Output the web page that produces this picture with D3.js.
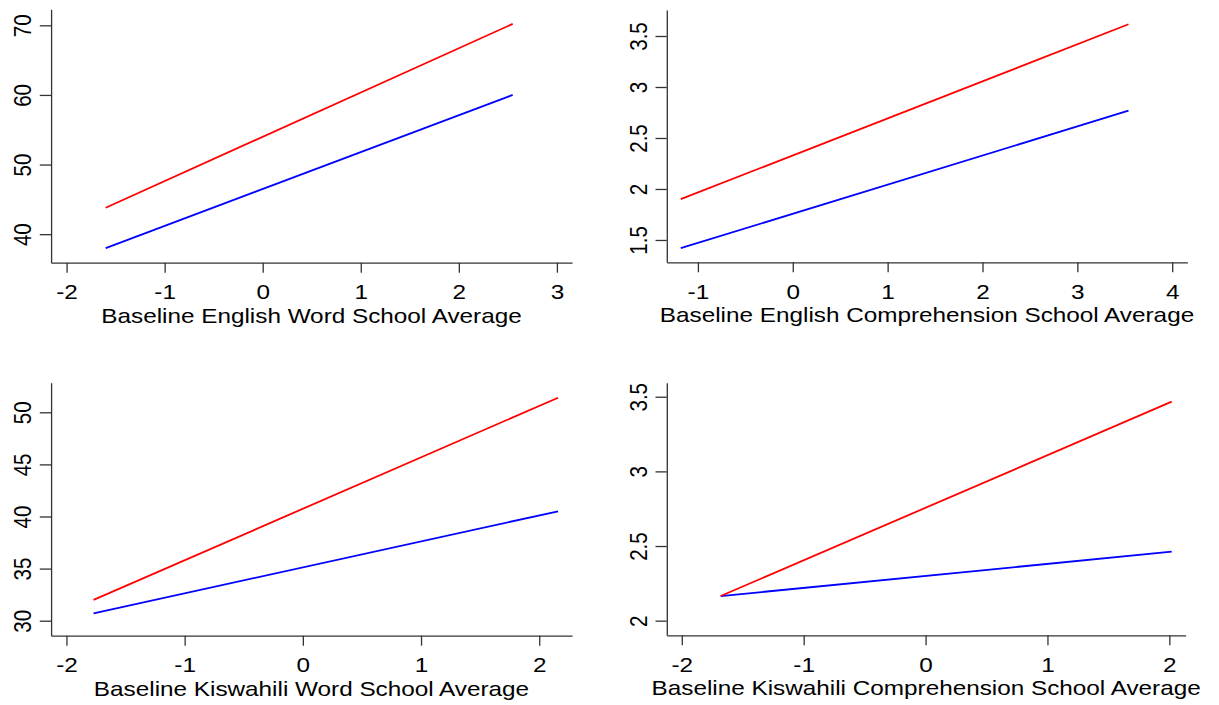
<!DOCTYPE html>
<html>
<head>
<meta charset="utf-8">
<script src="https://cdnjs.cloudflare.com/ajax/libs/d3/7.8.5/d3.min.js"></script>
<style>
  html, body { margin: 0; padding: 0; background: #fff; }
  svg { display: block; }
  text { font-family: "Liberation Sans", Arial, sans-serif; font-size: 20.6px; fill: #000; }
  .domain, .tick line { stroke: #333; stroke-width: 1.3px; vector-effect: non-scaling-stroke; }
  .fit { fill: none; stroke-width: 1.8px; vector-effect: non-scaling-stroke; }
</style>
</head>
<body>
<script>
// fitted lines, two end points each
const engWordX = [-1.6, 2.55]
const engWordRed = [43.8, 70.2]
const engWordBlue = [38.0, 60.0]

const engCompX = [-1.18, 3.54]
const engCompRed = [1.90, 3.615]
const engCompBlue = [1.419, 2.768]

const kisWordX = [-1.77, 2.16]
const kisWordRed = [32.0, 51.4]
const kisWordBlue = [30.7, 40.5]

const kisCompX = [-1.68, 2.02]
const kisCompRed = [2.165, 3.467]
const kisCompBlue = [2.165, 2.462]

// axis ranges and ticks
const engWordXRange = [-2.158, 3.155]
const engWordYRange = [35.9, 72.3]
const engWordXTicks = [-2, -1, 0, 1, 2, 3]
const engWordYTicks = [40, 50, 60, 70]

const engCompXRange = [-1.328, 4.16]
const engCompYRange = [1.281, 3.755]
const engCompXTicks = [-1, 0, 1, 2, 3, 4]
const engCompYTicks = [1.5, 2, 2.5, 3, 3.5]

const kisWordXRange = [-2.13, 2.278]
const kisWordYRange = [28.56, 52.84]
const kisWordXTicks = [-2, -1, 0, 1, 2]
const kisWordYTicks = [30, 35, 40, 45, 50]

const kisCompXRange = [-2.123, 2.134]
const kisCompYRange = [1.902, 3.594]
const kisCompXTicks = [-2, -1, 0, 1, 2]
const kisCompYTicks = [2, 2.5, 3, 3.5]

const titles = [
  'Baseline English Word School Average',
  'Baseline English Comprehension School Average',
  'Baseline Kiswahili Word School Average',
  'Baseline Kiswahili Comprehension School Average'
]

const red = '#ff0000'
const blue = '#0000ff'

// plot boxes in screen pixels: left, right, top, bottom
const panels = [
  { box: [51, 572, 9.3, 262.7], xs: engWordX, red: engWordRed, blue: engWordBlue,
    xRange: engWordXRange, yRange: engWordYRange, xTicks: engWordXTicks, yTicks: engWordYTicks, title: titles[0] },
  { box: [666.7, 1187.3, 10, 262.3], xs: engCompX, red: engCompRed, blue: engCompBlue,
    xRange: engCompXRange, yRange: engCompYRange, xTicks: engCompXTicks, yTicks: engCompYTicks, title: titles[1] },
  { box: [51, 572, 382.7, 635.7], xs: kisWordX, red: kisWordRed, blue: kisWordBlue,
    xRange: kisWordXRange, yRange: kisWordYRange, xTicks: kisWordXTicks, yTicks: kisWordYTicks, title: titles[2] },
  { box: [666.7, 1185.6, 382.7, 635.3], xs: kisCompX, red: kisCompRed, blue: kisCompBlue,
    xRange: kisCompXRange, yRange: kisCompYRange, xTicks: kisCompXTicks, yTicks: kisCompYTicks, title: titles[3] }
]

// the reference picture is stretched sideways, so draw narrower and let the viewBox widen it
const S = 1.18

const svg = d3.select('body').append('svg')
  .attr('width', 1219)
  .attr('height', 705)
  .attr('viewBox', [0, 0, 1219 / S, 705])
  .attr('preserveAspectRatio', 'none')

panels.forEach(p => {
  const [left, right, top, bottom] = p.box
  const x = d3.scaleLinear().domain(p.xRange).range([left / S, right / S])
  const y = d3.scaleLinear().domain(p.yRange).range([bottom, top])
  const g = svg.append('g')

  const xAxis = g.append('g')
    .attr('transform', `translate(0,${bottom})`)
    .call(d3.axisBottom(x).tickValues(p.xTicks).tickSize(10).tickSizeOuter(0).tickFormat(d => String(d)))
  xAxis.selectAll('text').attr('y', 36.5).attr('dy', null)

  const yAxis = g.append('g')
    .attr('transform', `translate(${left / S},0)`)
    .call(d3.axisLeft(y).tickValues(p.yTicks).tickSize(9.5).tickSizeOuter(0).tickFormat(d => String(d)))
  yAxis.selectAll('text')
    .attr('x', null)
    .attr('dy', null)
    .attr('text-anchor', 'middle')
    .attr('transform', `translate(${-20 / S},0) rotate(-90)`)

  g.append('text')
    .attr('x', (left + right) / 2 / S)
    .attr('y', bottom + 60)
    .attr('text-anchor', 'middle')
    .text(p.title)

  const line = d3.line().x(d => x(d[0])).y(d => y(d[1]))
  g.append('path').attr('class', 'fit').attr('stroke', blue).attr('d', line(d3.zip(p.xs, p.blue)))
  g.append('path').attr('class', 'fit').attr('stroke', red).attr('d', line(d3.zip(p.xs, p.red)))
})
</script>
</body>
</html>
